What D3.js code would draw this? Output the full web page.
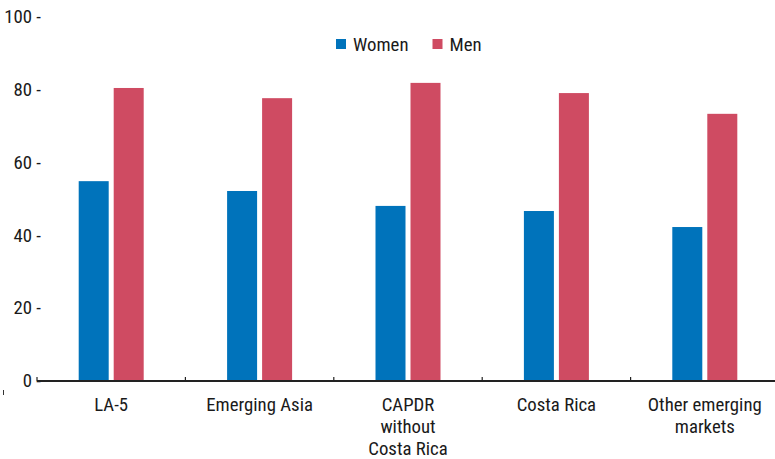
<!DOCTYPE html>
<html><head><meta charset="utf-8">
<script src="https://cdn.jsdelivr.net/npm/d3@7"></script>
<style>
html,body{margin:0;padding:0;background:#fff;}
text{font-family:"Liberation Sans Narrow","Arial Narrow","Roboto Condensed",sans-serif;fill:#1a1a1a;}
</style></head>
<body><svg id="c" width="775" height="459"></svg>
<script>
const categories = [["LA-5"],["Emerging Asia"],["CAPDR","without","Costa Rica"],["Costa Rica"],["Other emerging","markets"]];
const women = [54.9, 52.2, 48.1, 46.7, 42.3];
const men = [80.5, 77.7, 81.9, 79.1, 73.4];
const yTicks = [0, 20, 40, 60, 80, 100];
const seriesNames = ["Women", "Men"];
const colors = ["#0073BB", "#CF4B62"];

const svg = d3.select("#c");
const keys = categories.map(c => c.join(" "));
const x = d3.scaleBand().domain(keys).range([37, 779]).padding(0);
const y = d3.scaleLinear().domain([0, 100]).range([381, 17]);
const fs = 18.8;

// y tick labels
svg.append("g").selectAll("text").data(yTicks).join("text")
  .attr("x", 41).attr("y", d => y(d)).attr("dy", "0.33em")
  .attr("text-anchor", "end").style("font-size", fs + "px")
  .text(d => d + " -");

// bars
const barW = 30, gap = 5;
const g = svg.append("g");
[women, men].forEach((vals, si) => {
  g.selectAll(".b" + si).data(vals).join("rect")
    .attr("x", (d, i) => x(keys[i]) + x.bandwidth() / 2 + (si === 0 ? -(barW + gap / 2) : gap / 2))
    .attr("y", d => y(d))
    .attr("width", barW)
    .attr("height", d => y(0) - y(d))
    .attr("fill", colors[si]);
});

// x axis line and ticks (pointing up at band boundaries)
svg.append("line").attr("x1", 37).attr("x2", 775).attr("y1", y(0)).attr("y2", y(0))
  .attr("stroke", "#222").attr("stroke-width", 1.8);
const bounds = keys.map(k => x(k));
svg.append("g").selectAll("line").data(bounds).join("line")
  .attr("x1", d => d).attr("x2", d => d)
  .attr("y1", y(0) - 4).attr("y2", y(0))
  .attr("stroke", "#222").attr("stroke-width", 1.2);

// stray small mark at lower left
svg.append("line").attr("x1", 3.5).attr("x2", 3.5).attr("y1", 390).attr("y2", 395)
  .attr("stroke", "#333").attr("stroke-width", 1);

// category labels
const lab = svg.append("g");
categories.forEach((lines, i) => {
  const t = lab.append("text").attr("text-anchor", "middle").style("font-size", fs + "px");
  lines.forEach((ln, j) => {
    t.append("tspan").attr("x", x(keys[i]) + x.bandwidth() / 2)
      .attr("y", 411 + j * 22).text(ln);
  });
});

// legend
const leg = svg.append("g");
const legX = [336, 432.5];
seriesNames.forEach((n, i) => {
  leg.append("rect").attr("x", legX[i]).attr("y", 39).attr("width", 10).attr("height", 10).attr("fill", colors[i]);
  leg.append("text").attr("x", legX[i] + 17).attr("y", 50.5).style("font-size", fs + "px").text(n);
});
</script></body></html>
